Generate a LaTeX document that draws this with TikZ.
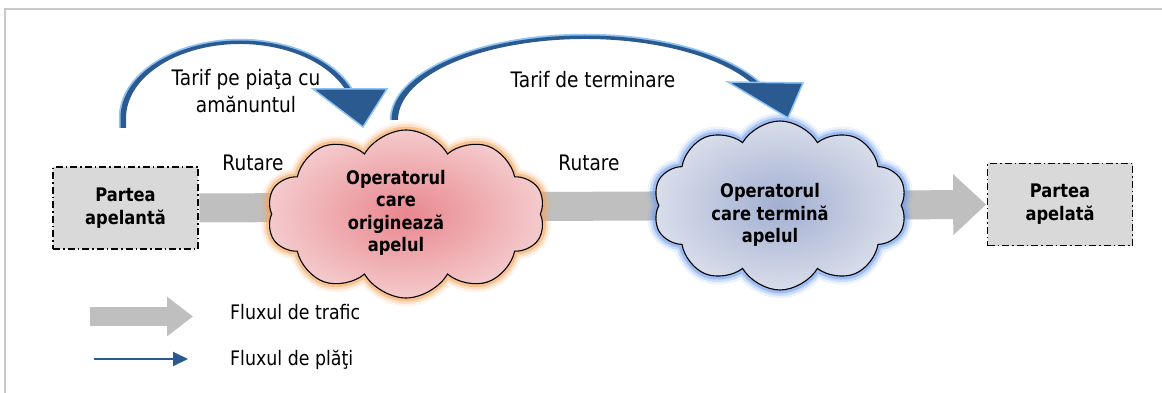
\documentclass[tikz,border=0pt]{standalone}
\usepackage{fontspec}
\setmainfont{DejaVu Sans}[FakeStretch=0.87]
\usetikzlibrary{shapes.symbols, arrows.meta, calc}
\definecolor{bandgray}{HTML}{BFBFBF}
\definecolor{boxgray}{HTML}{D9D9D9}
\definecolor{darkblue}{HTML}{2A5A90}
\definecolor{lightblue}{HTML}{8EC4F6}
\definecolor{framegray}{HTML}{C8C8C8}
\definecolor{redin}{HTML}{E8878E}
\definecolor{redout}{HTML}{F4CACC}
\definecolor{gloworange}{HTML}{F7A55C}
\definecolor{bluein}{HTML}{A2AFD2}
\definecolor{blueout}{HTML}{D8DDEA}
\definecolor{glowblue}{HTML}{6E9EF0}
\begin{document}
\begin{tikzpicture}[x=1pt,y=-1pt,
  party/.style={draw=black, line width=1.3pt, fill=boxgray,
    dash pattern=on 7pt off 3pt on 1.5pt off 3pt,
    minimum width=145pt, minimum height=82pt, inner sep=0pt, align=center,
    font=\fontsize{18.7}{23}\selectfont\bfseries},
  cloudnode/.style={cloud, cloud puffs=10, cloud puff arc=120, cloud ignores aspect,
    draw=black, line width=1.1pt, inner sep=0pt},
  glow/.style={preaction={draw=#1, draw opacity=.12, line width=17pt},
    preaction={draw=#1, draw opacity=.25, line width=12pt},
    preaction={draw=#1, draw opacity=.5, line width=7pt}},
  lbl/.style={font=\fontsize{21.3}{27}\selectfont, inner sep=0pt, align=center},
  ctext/.style={font=\fontsize{18.7}{22.5}\selectfont\bfseries, inner sep=0pt, align=center},
  legtext/.style={font=\fontsize{20}{24}\selectfont, inner sep=0pt, anchor=west},
  payband/.style={fill=darkblue},
  payglow/.style={draw=lightblue, line width=3.5pt},
  payhead/.style={fill=darkblue, draw=lightblue, line width=1.5pt, line join=miter},
]
\useasboundingbox (0,0) rectangle (1162,393);
\fill[white] (0,0) rectangle (1162,393);
% frame
\draw[framegray, line width=2pt] (1162,9.5) -- (5,9.5) -- (5,393);

% parties
\node[party] (b1) at (125.5,208) {Partea\\apelantă};
\node[party] (b2) at (1060,204.5) {Partea\\apelată};

% traffic band
\draw[bandgray, line width=29pt, shorten <=0.7pt, shorten >=0.7pt,
  -{Triangle[length=33pt, width=59pt]}] (b1.east) -- (b2.west);

% clouds
\node[cloudnode, glow=gloworange, shade, inner color=redin, outer color=redout,
  minimum width=278pt, minimum height=168pt] (c1) at (406,214) {};
\node[cloudnode, glow=glowblue, shade, inner color=bluein, outer color=blueout,
  minimum width=254pt, minimum height=169pt] (c2) at (780,205.5) {};
\node[ctext] (t1) at (396,213) {Operatorul\\care\\originează\\apelul};
\node[ctext] (t2) at (770,215) {Operatorul\\care termină\\apelul};

% routing labels
\node[lbl] (r1) at (253,163) {Rutare};
\node[lbl] (r2) at (589,163) {Rutare};

% payment arc 1 (centre of ellipse p1c)
\coordinate (p1c) at (240,118);
\coordinate (p1h1) at (313,89);
\coordinate (p1h2) at (387,89);
\coordinate (p1tip) at (363,127);
\draw[payglow] ($(p1c)+(-119.5,10)$) -- ($(p1c)+(-119.5,0)$)
  arc[start angle=180, end angle=338, x radius=119.5, y radius=77.5];
\fill[payband] ($(p1c)+(-119.5,10)$) -- ($(p1c)+(-119.5,0)$)
  arc[start angle=180, end angle=338, x radius=119.5, y radius=77.5]
  -- ($(p1c)+({114*cos(338)},{74*sin(338)})$)
  arc[start angle=338, end angle=180, x radius=114, y radius=74]
  -- ($(p1c)+(-114,10)$) -- cycle;
\filldraw[payhead] (p1h1) -- (p1h2) -- (p1tip) -- cycle;
\node[lbl] (l1) at (246,91) {Tarif pe piaţa cu\\amănuntul};

% payment arc 2 (centre of ellipse p2c)
\coordinate (p2c) at (585,120);
\coordinate (p2h1) at (728,82);
\coordinate (p2h2) at (803,83);
\coordinate (p2tip) at (788,118);
\draw[payglow] ($(p2c)+(-193.5,0)$)
  arc[start angle=180, end angle=343, x radius=193.5, y radius=84.5];
\fill[payband] ($(p2c)+(-193.5,0)$)
  arc[start angle=180, end angle=343, x radius=193.5, y radius=84.5]
  -- ($(p2c)+({187*cos(343)},{81*sin(343)})$)
  arc[start angle=343, end angle=180, x radius=187, y radius=81] -- cycle;
\filldraw[payhead] (p2h1) -- (p2h2) -- (p2tip) -- cycle;
\node[lbl] (l2) at (593,80) {Tarif de terminare};

% legend
\coordinate (lg1) at (90,316.5);
\coordinate (lg2) at (193,316.5);
\draw[bandgray, line width=19pt, -{Triangle[length=26pt, width=38pt]}] (lg1) -- (lg2);
\node[legtext] (lt1) at (230,312) {Fluxul de trafic};
\coordinate (lb1) at (94,359);
\coordinate (lb2) at (188,359);
\draw[darkblue, line width=2pt, -{Triangle[length=15pt, width=14pt]}] (lb1) -- (lb2);
\node[legtext] (lt2) at (230,360) {Fluxul de plăţi};
\end{tikzpicture}
\end{document}
